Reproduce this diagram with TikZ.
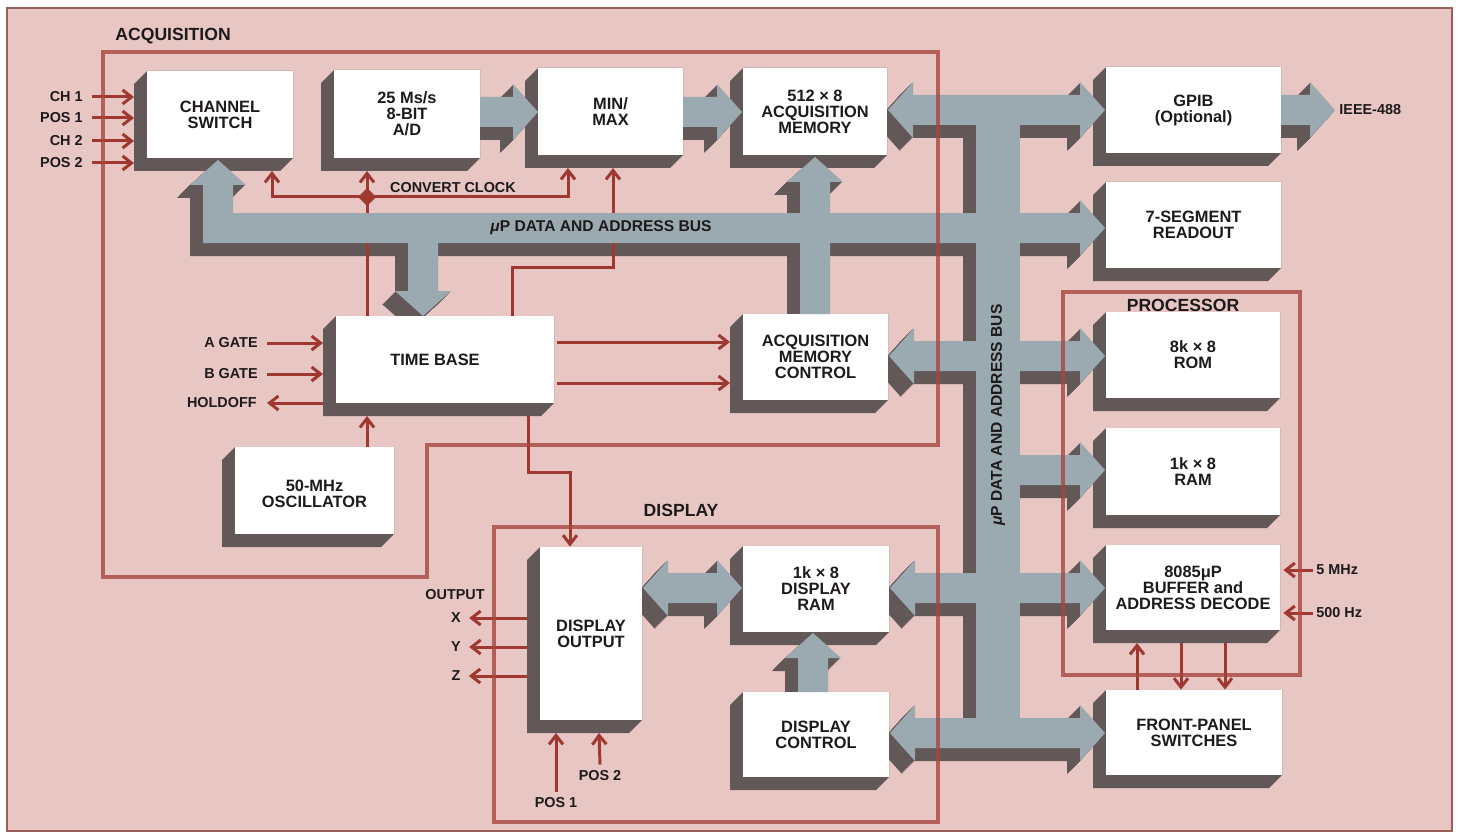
\documentclass[tikz,border=0pt]{standalone}
\usepackage{fontspec}
\setmainfont{Liberation Sans}
\usetikzlibrary{arrows.meta}
\definecolor{pinkbg}{RGB}{232,198,195}
\definecolor{edgec}{RGB}{150,95,90}
\definecolor{sigred}{RGB}{158,56,48}
\definecolor{framered}{RGB}{166,70,64}
\definecolor{busgray}{RGB}{155,169,176}
\definecolor{shadowc}{RGB}{98,88,88}
\definecolor{inkc}{RGB}{30,26,28}
\tikzset{
  boxnode/.style={fill=white, inner sep=0pt, align=center, text=inkc,
    font=\fontsize{8.2}{8}\selectfont\bfseries},
  lab/.style={inner sep=0pt, text=inkc, font=\fontsize{7.2}{8}\selectfont\bfseries},
  headlab/.style={inner sep=0pt, text=inkc, font=\fontsize{8.8}{9}\selectfont\bfseries},
  bustext/.style={inner sep=0pt, text=inkc, font=\fontsize{7.8}{8}\selectfont\bfseries},
  sig/.style={draw=sigred, line width=1.5pt},
  sigarrow/.style={sig, -{Straight Barb[length=4.5pt,width=7pt]}},
  frameline/.style={draw=framered, line width=2pt, opacity=0.8},
}
% box with extruded shadow: name, x1, y1, x2, y2, text
\newcommand\blockbox[6]{%
  \fill[shadowc] (#2,#3) -- (#4,#3) -- (#4,#5) -- ({#4-13},{#5+13}) -- ({#2-13},{#5+13}) -- ({#2-13},{#3+13}) -- cycle;
  \coordinate (#1-sw) at ({#2-13},{#5+13});
  \pgfmathsetmacro\bxw{(#4-#2)*0.5}%
  \pgfmathsetmacro\bxh{(#5-#3)*0.5}%
  \node[boxnode, minimum width=\bxw pt, minimum height=\bxh pt] (#1) at ({(#2+#4)/2},{(#3+#5)/2}) {#6};
}
\newcommand\busshapes[1]{%
  \fill[#1] (480,97) -- (513,97) -- (513,84) -- (538,112) -- (513,140) -- (513,127) -- (480,127) -- cycle;
  \fill[#1] (683,97) -- (717,97) -- (717,84) -- (742,112) -- (717,140) -- (717,127) -- (683,127) -- cycle;
  \fill[#1] (888,110) -- (913,82) -- (913,95) -- (1080,95) -- (1080,82) -- (1105,110) -- (1080,138) -- (1080,125) -- (913,125) -- (913,138) -- cycle;
  \fill[#1] (976,95) rectangle (1020,748);
  \fill[#1] (218,160) -- (246,185) -- (233,185) -- (233,213) -- (1080,213) -- (1080,200) -- (1105,228) -- (1080,256) -- (1080,243) -- (203,243) -- (203,185) -- (190,185) -- cycle;
  \fill[#1] (408,243) -- (438,243) -- (438,291) -- (451,291) -- (423,316) -- (395,291) -- (408,291) -- cycle;
  \fill[#1] (800,314) -- (800,182) -- (787,182) -- (815,157) -- (843,182) -- (830,182) -- (830,314) -- cycle;
  \fill[#1] (889,356) -- (914,328) -- (914,341) -- (1080,341) -- (1080,328) -- (1105,356) -- (1080,384) -- (1080,371) -- (914,371) -- (914,384) -- cycle;
  \fill[#1] (1000,455) -- (1080,455) -- (1080,442) -- (1105,470) -- (1080,498) -- (1080,485) -- (1000,485) -- cycle;
  \fill[#1] (890,588) -- (915,560) -- (915,573) -- (1080,573) -- (1080,560) -- (1105,588) -- (1080,616) -- (1080,603) -- (915,603) -- (915,616) -- cycle;
  \fill[#1] (890,733) -- (915,705) -- (915,718) -- (1080,718) -- (1080,705) -- (1105,733) -- (1080,761) -- (1080,748) -- (915,748) -- (915,761) -- cycle;
  \fill[#1] (643,588) -- (668,560) -- (668,573) -- (717,573) -- (717,560) -- (742,588) -- (717,616) -- (717,603) -- (668,603) -- (668,616) -- cycle;
  \fill[#1] (798,692) -- (798,658) -- (785,658) -- (813,633) -- (841,658) -- (828,658) -- (828,692) -- cycle;
  \fill[#1] (1281,95) -- (1310,95) -- (1310,82) -- (1335,110) -- (1310,138) -- (1310,125) -- (1281,125) -- cycle;
}
\begin{document}
\begin{tikzpicture}[x=0.5pt,y=-0.5pt]
\useasboundingbox (0,0) rectangle (1459,834);
\fill[white] (0,0) rectangle (1459,834);
\fill[pinkbg] (7,8) rectangle (1452,831);
\draw[edgec, line width=0.8pt] (7,8) rectangle (1452,831);

% bus shadows
\foreach \k in {1,...,13}{\begin{scope}[shift={(-\k,\k)}]\busshapes{shadowc}\end{scope}}

% blocks
\blockbox{cs}{147}{71}{293}{158}{CHANNEL\\SWITCH}
\blockbox{ad}{334}{70}{480}{158}{25 Ms/s\\8-BIT\\A/D}
\blockbox{mm}{538}{68}{683}{155}{MIN/\\MAX}
\blockbox{am}{743}{68}{887}{155}{512 × 8\\ACQUISITION\\MEMORY}
\blockbox{gp}{1106}{67}{1281}{153}{GPIB\\(Optional)}
\blockbox{seg}{1106}{182}{1281}{268}{7-SEGMENT\\READOUT}
\blockbox{tb}{336}{316}{554}{403}{TIME BASE\hspace*{10pt}}
\blockbox{amc}{743}{314}{888}{400}{ACQUISITION\\MEMORY\\CONTROL}
\blockbox{rom}{1106}{312}{1280}{398}{8k × 8\\ROM}
\blockbox{ram}{1106}{428}{1280}{515}{1k × 8\\RAM}
\blockbox{cpu}{1106}{545}{1280}{630}{8085μP\\BUFFER and\\ADDRESS DECODE}
\blockbox{osc}{235}{447}{394}{534}{\rule{0pt}{9pt}50-MHz\\OSCILLATOR}
\blockbox{do}{540}{547}{642}{720}{DISPLAY\\OUTPUT}
\blockbox{dr}{743}{546}{889}{632}{1k × 8\\DISPLAY\\RAM}
\blockbox{dc}{743}{692}{889}{777}{DISPLAY\\CONTROL}
\blockbox{fp}{1106}{690}{1282}{775}{FRONT-PANEL\\SWITCHES}

% labels
\node[headlab, anchor=west] (hacq) at (115,36) {ACQUISITION};
\node[headlab] (hdisp) at (681,510) {DISPLAY};
\node[headlab] (hproc) at (1183,305) {PROCESSOR};
\node[lab, anchor=east] (lch1) at (83,97) {CH 1};
\node[lab, anchor=east] (lpos1) at (83,118) {POS 1};
\node[lab, anchor=east] (lch2) at (83,141) {CH 2};
\node[lab, anchor=east] (lpos2) at (83,163) {POS 2};
\node[lab, anchor=east] (lag) at (258,343) {A GATE};
\node[lab, anchor=east] (lbg) at (258,374) {B GATE};
\node[lab, anchor=east] (lho) at (257,403) {HOLDOFF};
\node[lab] (lcc) at (453,188) {CONVERT CLOCK};
\node[lab] (lout) at (455,595) {OUTPUT};
\node[lab] (lx) at (456,618) {X};
\node[lab] (ly) at (456,647) {Y};
\node[lab] (lz) at (456,676) {Z};
\node[lab] (ldp1) at (556,803) {POS 1};
\node[lab] (ldp2) at (600,776) {POS 2};
\node[lab, anchor=west] (l5m) at (1316,570) {5 MHz};
\node[lab, anchor=west] (l500) at (1316,613) {500 Hz};
\node[lab, anchor=west] (lieee) at (1339,110) {IEEE-488};

% signal lines
\foreach \n in {lch1,lpos1,lch2,lpos2}{\draw[sigarrow] ([xshift=4.5pt]\n.east) -- (cs-sw |- \n.east);}
\coordinate (ccj) at (367,197);
\draw[sigarrow] (367,0 |- tb.north) -- (367,0 |- ad-sw);
\draw[sigarrow] (ccj) -- (272,197) -- (272,0 |- cs-sw);
\draw[sigarrow] (ccj) -- (568,197) -- (568,0 |- mm-sw);
\fill[sigred] (367,188) -- (376,197) -- (367,206) -- (358,197) -- cycle;
\draw[sigarrow] (512,0 |- tb.north) -- (512,267) -- (613,267) -- (613,0 |- mm-sw);
\draw[sigarrow] ([xshift=4.5pt]lag.east) -- (tb-sw |- lag.east);
\draw[sigarrow] ([xshift=4.5pt]lbg.east) -- (tb-sw |- lbg.east);
\draw[sigarrow] (tb-sw |- lho.east) -- ([xshift=5pt]lho.east);
\draw[sigarrow] (367,0 |- osc.north) -- (367,0 |- tb-sw);
\draw[sigarrow] ([xshift=1.5pt]tb.east |- 0,342) -- (amc-sw |- 0,342);
\draw[sigarrow] ([xshift=1.5pt]tb.east |- 0,383) -- (amc-sw |- 0,383);
\draw[sigarrow] (528,0 |- tb-sw) -- (528,472) -- (570,472) -- (570,0 |- do.north);
\foreach \n in {lx,ly,lz}{\draw[sigarrow] (do-sw |- \n.east) -- ([xshift=4pt]\n.east);}
\draw[sigarrow] ([yshift=3pt]ldp1.north) -- (556,0 |- do-sw);
\draw[sigarrow] ([yshift=3pt]ldp2.north) -- (599,0 |- do-sw);
\draw[sigarrow] ([xshift=-1.5pt]l5m.west) -- ([xshift=1.5pt]cpu.east |- l5m.west);
\draw[sigarrow] ([xshift=-1.5pt]l500.west) -- ([xshift=1.5pt]cpu.east |- l500.west);
\draw[sigarrow] (1137,0 |- fp.north) -- (1137,0 |- cpu-sw);
\draw[sigarrow] (1181,0 |- cpu-sw) -- (1181,0 |- fp.north);
\draw[sigarrow] (1225,0 |- cpu-sw) -- (1225,0 |- fp.north);

% bus
\busshapes{busgray}
\node[bustext] (bush) at (601,228) {{\itshape μ}P DATA AND ADDRESS BUS};
\node[bustext, rotate=90] (busv) at (998,415) {{\itshape μ}P DATA AND ADDRESS BUS};

% frames
\draw[frameline] (103,52) -- (938,52) -- (938,445) -- (427,445) -- (427,577) -- (103,577) -- cycle;
\draw[frameline] (494,527) rectangle (938,822);
\draw[frameline] (1063,292) rectangle (1300,675);
\end{tikzpicture}
\end{document}
